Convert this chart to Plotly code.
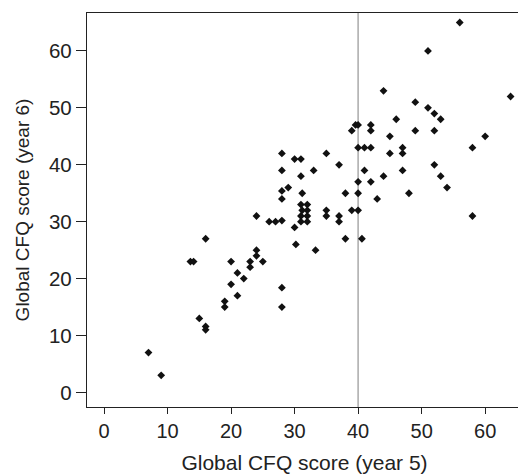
import plotly.graph_objects as go

# Global CFQ score year 5 (x) and year 6 (y)
cfq_year5 = [56, 51, 44, 64, 49, 51, 52, 46, 53, 39.6, 40, 42, 39, 42, 49, 52, 45, 60,
             40, 41, 42, 47, 58, 28, 35, 45, 47, 30, 31, 37, 52, 28, 33, 41, 47, 31, 44, 53,
             40, 42, 29, 54, 28, 31.2, 38, 40, 48, 28, 43, 31, 32, 31.2, 32, 35, 39, 40,
             24, 31, 32, 35, 37, 58, 26, 27, 28, 31, 32, 37, 30, 16, 38, 40.6, 30.2, 33.3,
             24, 24, 13.6, 14.1, 20, 23, 25, 23, 21, 22, 20, 28, 21, 19, 19, 28, 15, 16, 16,
             7, 9]
cfq_year6 = [65, 60, 53, 52, 51, 50, 49, 48, 48, 47, 47, 47, 46, 46, 46, 46, 45, 45,
             43, 43, 43, 43, 43, 42, 42, 42, 42, 41, 41, 40, 40, 39, 39, 39, 39, 38, 38, 38,
             37, 37, 36, 36, 35.4, 35, 35, 35, 35, 34, 34, 33, 33, 32, 32, 32, 32, 32,
             31, 31, 31, 31, 31, 31, 30, 30, 30.2, 30, 30, 30, 29, 27, 27, 27, 26, 25,
             25, 24, 23, 23, 23, 23, 23, 22, 21, 20, 19, 18.4, 17, 16, 15, 15, 13, 11.6, 11,
             7, 3]

cutoff = 40
x_ticks = [0, 10, 20, 30, 40, 50, 60]
y_ticks = [0, 10, 20, 30, 40, 50, 60]

FONT = "Liberation Sans, Arial, sans-serif"
TXT = "#222222"

fig = go.Figure()
fig.add_trace(go.Scatter(
    x=cfq_year5, y=cfq_year6, mode="markers",
    marker=dict(symbol="diamond", size=6, color="#111111"),
    showlegend=False, hoverinfo="x+y"))

fig.add_shape(type="line", xref="x", yref="paper", x0=cutoff, x1=cutoff, y0=0, y1=1,
              line=dict(color="#aaaaaa", width=1.5), layer="below")

axis_common = dict(
    showgrid=False, zeroline=False, showline=True, mirror=True,
    linecolor="#222222", linewidth=1.3, ticks="outside",
    tickcolor="#222222", tickwidth=1.2, automargin=False,
)

fig.update_layout(
    width=518, height=466,
    margin=dict(l=79.3, r=4, t=4.7, b=66.7),
    paper_bgcolor="white", plot_bgcolor="white",
    xaxis=dict(range=[-2.68, 65.8], tickvals=x_ticks, ticklen=6,
               tickfont=dict(family=FONT, size=20, color=TXT),
               title=dict(text="Global CFQ score (year 5)", standoff=14,
                          font=dict(family=FONT, size=21, color=TXT)),
               **axis_common),
    yaxis=dict(range=[-2.56, 66.67], tickvals=y_ticks, ticklen=10,
               tickfont=dict(family=FONT, size=20.5, color=TXT),
               title=dict(text="Global CFQ score (year 6)", standoff=14,
                          font=dict(family=FONT, size=19, color=TXT)),
               **axis_common),
)

fig.write_html("out.html")
